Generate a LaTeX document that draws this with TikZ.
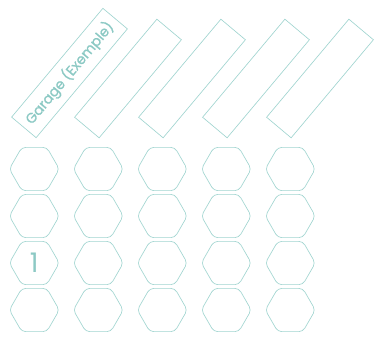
\documentclass[tikz,border=0pt]{standalone}
\usepackage{fontspec}
\setmainfont{Poppins}
\usetikzlibrary{shapes.geometric}
\definecolor{lineteal}{HTML}{A0D4CF}
\definecolor{textteal}{HTML}{8CC9C4}
\tikzset{
  slot/.style={draw=lineteal, line width=0.65pt, rotate=50, minimum height=32pt, inner sep=0pt},
  hexcell/.style={draw=lineteal, line width=0.65pt, regular polygon, regular polygon sides=6, minimum size=50pt, inner sep=0pt, rounded corners=4pt}
}
\begin{document}
\begin{tikzpicture}[x=1pt,y=-1pt]
\useasboundingbox (0,0) rectangle (374,338);
\node[slot, minimum width=142pt, text=textteal, font=\fontsize{14}{14}\selectfont\addfontfeature{FakeBold=1.2}] (r1) at (69.5,73) {Garage (Exemple)};
\node[slot, minimum width=128pt] (r2) at (128,78.5) {};
\node[slot, minimum width=128pt] (r3) at (192,78.5) {};
\node[slot, minimum width=128pt] (r4) at (256,78.5) {};
\node[slot, minimum width=128pt] (r5) at (320,78.5) {};
\foreach \c in {0,...,4} {
  \foreach \r in {0,...,3} {
    \node[hexcell] (h\c\r) at ({34.3+64*\c},{169+47*\r}) {};
  }
}
\node[text=textteal, font=\fontsize{27}{27}\selectfont] (one) at (h02.center) {1};
\end{tikzpicture}
\end{document}
